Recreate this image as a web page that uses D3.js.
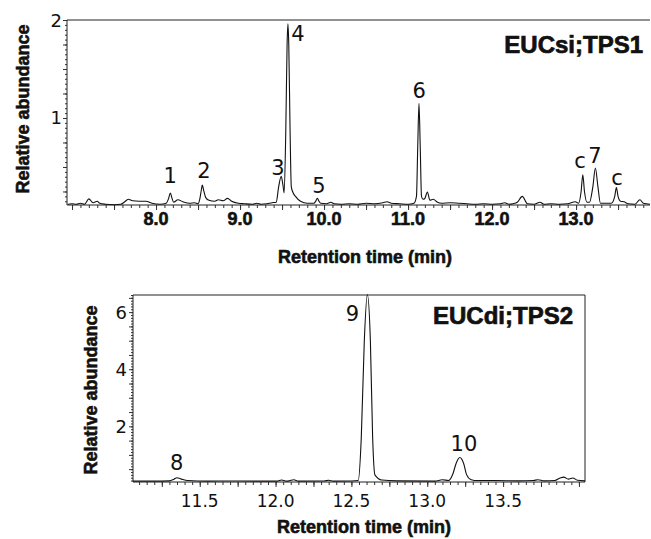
<!DOCTYPE html>
<html>
<head>
<meta charset="utf-8">
<script src="https://cdn.jsdelivr.net/npm/d3@7"></script>
<style>
  body { margin: 0; background: #fff; }
  svg { display: block; }
  .axis-title { font-family: "Liberation Sans", Arial, sans-serif; font-weight: bold; font-size: 18px; fill: #111; stroke: #111; stroke-width: 0.6; }
  .panel-title { font-family: "Liberation Sans", Arial, sans-serif; font-weight: bold; font-size: 24px; fill: #111; stroke: #111; stroke-width: 0.7; }
  .peak-label { font-family: "DejaVu Sans", sans-serif; font-size: 21px; fill: #111; }
  .trace { fill: none; stroke: #111; stroke-width: 1.1; }
</style>
</head>
<body>
<div id="chart"></div>
<script>
// EUCsi;TPS1 trace (retention time in min, relative abundance)
const tps1Time = [6.95, 7.00, 7.05, 7.10, 7.15, 7.20, 7.25, 7.30, 7.33, 7.40, 7.50, 7.58, 7.62, 7.67, 7.72, 7.80, 7.88, 7.95,
  8.05, 8.12, 8.15, 8.17, 8.19, 8.21, 8.26, 8.32, 8.40, 8.46, 8.50, 8.52, 8.54, 8.55, 8.57, 8.59, 8.63, 8.70, 8.74, 8.80, 8.85, 8.90, 8.98,
  9.05, 9.15, 9.20, 9.25, 9.32, 9.38, 9.43, 9.46, 9.49, 9.51, 9.525, 9.545, 9.56, 9.57, 9.58, 9.595, 9.61, 9.63, 9.66, 9.72, 9.80, 9.88, 9.90, 9.92, 9.94, 9.96,
  10.03, 10.08, 10.12, 10.20, 10.30, 10.40, 10.50, 10.60, 10.70, 10.75, 10.80, 10.90, 11.00, 11.07, 11.10, 11.115, 11.13, 11.145, 11.16, 11.18, 11.20, 11.23, 11.26, 11.30, 11.35, 11.40, 11.50, 11.60, 11.70, 11.80, 11.90,
  12.00, 12.10, 12.15, 12.20, 12.25, 12.30, 12.36, 12.42, 12.50, 12.57, 12.62, 12.70, 12.80, 12.90, 12.99, 13.03, 13.06, 13.08, 13.10, 13.13, 13.16, 13.20, 13.23, 13.26, 13.29, 13.35, 13.42, 13.46, 13.48, 13.50, 13.53, 13.57, 13.62, 13.70, 13.76, 13.80, 13.88];
const tps1Abund = [0.12, 0.125, 0.12, 0.13, 0.12, 0.175, 0.135, 0.15, 0.13, 0.12, 0.115, 0.12, 0.14, 0.17, 0.155, 0.15, 0.15, 0.13,
  0.12, 0.13, 0.18, 0.235, 0.18, 0.14, 0.165, 0.145, 0.13, 0.135, 0.125, 0.17, 0.27, 0.315, 0.25, 0.19, 0.16, 0.15, 0.165, 0.155, 0.18, 0.15, 0.13,
  0.125, 0.12, 0.13, 0.12, 0.125, 0.135, 0.14, 0.3, 0.405, 0.32, 0.235, 0.9, 1.75, 1.96, 1.75, 0.9, 0.3, 0.24, 0.2, 0.15, 0.13, 0.13, 0.15, 0.18, 0.15, 0.13,
  0.125, 0.14, 0.125, 0.12, 0.125, 0.12, 0.13, 0.125, 0.135, 0.145, 0.13, 0.125, 0.12, 0.13, 0.2, 0.7, 1.15, 0.7, 0.2, 0.17, 0.18, 0.245, 0.16, 0.17, 0.14, 0.13, 0.135, 0.13, 0.125, 0.12, 0.125,
  0.12, 0.125, 0.135, 0.12, 0.125, 0.14, 0.20, 0.125, 0.12, 0.14, 0.12, 0.125, 0.12, 0.125, 0.145, 0.13, 0.25, 0.42, 0.25, 0.14, 0.14, 0.3, 0.49, 0.3, 0.13, 0.13, 0.13, 0.2, 0.29, 0.2, 0.15, 0.145, 0.125, 0.12, 0.165, 0.13, 0.12];

// EUCdi;TPS2 trace
const tps2Time = [11.06, 11.20, 11.30, 11.33, 11.35, 11.38, 11.42, 11.55, 11.70, 11.90, 12.01, 12.04, 12.07, 12.09, 12.12, 12.15, 12.32, 12.35, 12.38, 12.50, 12.545,
  12.565, 12.585, 12.605, 12.625, 12.64, 12.655, 12.70, 12.80, 13.05, 13.10, 13.14, 13.17, 13.19, 13.215, 13.24, 13.26, 13.29, 13.33, 13.45, 13.60, 13.70, 13.73, 13.77,
  13.84, 13.88, 13.90, 13.93, 13.96, 13.99, 14.04];
const tps2Abund = [0.08, 0.08, 0.09, 0.15, 0.2, 0.15, 0.1, 0.08, 0.085, 0.08, 0.08, 0.12, 0.08, 0.09, 0.13, 0.08, 0.085, 0.11, 0.08, 0.085, 0.1,
  1.6, 5.0, 6.62, 5.0, 1.6, 0.3, 0.12, 0.09, 0.08, 0.13, 0.1, 0.35, 0.7, 0.91, 0.7, 0.3, 0.13, 0.1, 0.1, 0.09, 0.1, 0.13, 0.09,
  0.1, 0.2, 0.22, 0.15, 0.19, 0.11, 0.09];

// peak labels: text, time, abundance at label baseline
const tps1Labels = ["1", "2", "3", "4", "5", "6", "c", "7", "c"];
const tps1LabelTime = [8.167, 8.571, 9.452, 9.69, 9.94, 11.131, 13.048, 13.226, 13.488];
const tps1LabelAbund = [0.34, 0.391, 0.421, 1.789, 0.238, 1.207, 0.485, 0.544, 0.321];
const tps2Labels = ["8", "9", "10"];
const tps2LabelTime = [11.348, 12.507, 13.242];
const tps2LabelAbund = [0.481, 5.70, 1.146];

// axis ticks
const tps1XLabels = [8.0, 9.0, 10.0, 11.0, 12.0, 13.0];
const tps1YLabels = [1, 2];
const tps2XLabels = [11.5, 12.0, 12.5, 13.0, 13.5];
const tps2YLabels = [2, 4, 6];

const svg = d3.select('#chart').append('svg')
    .attr('width', 651)
    .attr('height', 539);

function range(a, b, step) {
    const out = [];
    for (let i = Math.ceil(a / step - 1e-9); i * step <= b + 1e-9; i++) out.push(+(i * step).toFixed(4));
    return out;
}

function drawPanel(opt) {
    const x = d3.scaleLinear().domain(opt.xDomain).range([opt.left, opt.right]);
    const y = d3.scaleLinear().domain(opt.yDomain).range([opt.bottom, opt.top]);
    const g = svg.append('g');

    // minor and major x ticks
    const xMinor = range(opt.xDomain[0], opt.xDomain[1], opt.xMinorStep);
    const xMajor = range(opt.xDomain[0], opt.xDomain[1], opt.xMajorStep);
    g.append('g').attr('transform', `translate(0,${opt.bottom})`)
        .call(d3.axisBottom(x).tickValues(xMinor).tickSize(3).tickFormat('').tickSizeOuter(0))
        .call(a => a.select('.domain').remove());
    g.append('g').attr('transform', `translate(0,${opt.bottom})`)
        .call(d3.axisBottom(x).tickValues(xMajor).tickSize(5).tickFormat('').tickSizeOuter(0))
        .call(a => a.select('.domain').remove());

    // y ticks
    const yMinor = range(opt.yDomain[0], opt.yDomain[1], opt.yMinorStep);
    const yMajor = range(opt.yDomain[0], opt.yDomain[1], opt.yMajorStep);
    g.append('g').attr('transform', `translate(${opt.left},0)`)
        .call(d3.axisLeft(y).tickValues(yMinor).tickSize(2).tickFormat(''))
        .call(a => a.select('.domain').remove());
    g.append('g').attr('transform', `translate(${opt.left},0)`)
        .call(d3.axisLeft(y).tickValues(yMajor).tickSize(4).tickFormat(''))
        .call(a => a.select('.domain').remove());
    g.selectAll('.tick line').attr('stroke', '#333');

    // frame
    const frame = g.append('g').attr('stroke', '#222').attr('stroke-width', 1).attr('fill', 'none');
    frame.append('line').attr('x1', opt.left).attr('x2', opt.right).attr('y1', opt.top).attr('y2', opt.top);
    frame.append('line').attr('x1', opt.left).attr('x2', opt.right).attr('y1', opt.bottom).attr('y2', opt.bottom);
    frame.append('line').attr('x1', opt.left).attr('x2', opt.left).attr('y1', opt.top).attr('y2', opt.bottom);
    if (opt.rightBorder) {
        frame.append('line').attr('x1', opt.right).attr('x2', opt.right).attr('y1', opt.top).attr('y2', opt.bottom);
    }

    // tick labels
    g.selectAll('.xlab').data(opt.xLabels).enter().append('text')
        .attr('x', d => x(d))
        .attr('y', opt.bottom + opt.xLabelDy)
        .attr('text-anchor', 'middle')
        .style('font-family', opt.xLabelBold ? '"Liberation Sans", Arial, sans-serif' : '"DejaVu Sans", sans-serif')
        .style('font-weight', opt.xLabelBold ? 'bold' : 'normal')
        .style('font-size', opt.xLabelSize + 'px')
        .style('fill', '#111')
        .style('stroke', opt.xLabelBold ? '#111' : 'none')
        .style('stroke-width', 0.6)
        .text(d => d.toFixed(1));
    g.selectAll('.ylab').data(opt.yLabels).enter().append('text')
        .attr('x', opt.left - opt.yLabelDx)
        .attr('y', d => y(d) + 6.5)
        .attr('text-anchor', 'end')
        .style('font-family', '"DejaVu Sans", sans-serif')
        .style('font-size', '18px')
        .style('fill', '#111')
        .text(d => d);

    // trace
    const pts = opt.time.map((t, i) => [t, opt.abund[i]]);
    g.append('path')
        .datum(pts)
        .attr('class', 'trace')
        .attr('d', d3.line().x(d => x(d[0])).y(d => y(d[1])).curve(d3.curveMonotoneX));

    // peak labels
    g.selectAll('.peak-label').data(opt.labels).enter().append('text')
        .attr('class', 'peak-label')
        .attr('x', (d, i) => x(opt.labelTime[i]))
        .attr('y', (d, i) => y(opt.labelAbund[i]))
        .attr('text-anchor', 'middle')
        .text(d => d);

    // titles
    g.append('text').attr('class', 'panel-title')
        .attr('x', opt.titleX).attr('y', opt.titleY)
        .attr('text-anchor', 'end')
        .text(opt.title);
    g.append('text').attr('class', 'axis-title')
        .attr('x', opt.xTitleX).attr('y', opt.xTitleY)
        .attr('text-anchor', 'middle')
        .text('Retention time (min)');
    g.append('text').attr('class', 'axis-title')
        .attr('transform', `translate(${opt.yTitleX},${opt.yTitleY}) rotate(-90)`)
        .attr('text-anchor', 'middle')
        .text('Relative abundance');
}

drawPanel({
    xDomain: [6.94, 13.88], yDomain: [0.112, 2.0],
    left: 67, right: 650, top: 20, bottom: 205,
    xMinorStep: 0.1, xMajorStep: 0.5, yMinorStep: 0.05, yMajorStep: 0.25,
    xLabels: tps1XLabels, yLabels: tps1YLabels,
    xLabelBold: true, xLabelSize: 18, xLabelDy: 19.5, yLabelDx: 5,
    time: tps1Time, abund: tps1Abund,
    labels: tps1Labels, labelTime: tps1LabelTime, labelAbund: tps1LabelAbund,
    title: 'EUCsi;TPS1', titleX: 643, titleY: 52.5,
    xTitleX: 365, xTitleY: 263, yTitleX: 29, yTitleY: 109,
    rightBorder: false
});

drawPanel({
    xDomain: [11.06, 14.04], yDomain: [0.05, 6.6],
    left: 133, right: 585, top: 295, bottom: 482,
    xMinorStep: 0.05, xMajorStep: 0.25, yMinorStep: 0.1, yMajorStep: 0.5,
    xLabels: tps2XLabels, yLabels: tps2YLabels,
    xLabelBold: false, xLabelSize: 17, xLabelDy: 25, yLabelDx: 6,
    time: tps2Time, abund: tps2Abund,
    labels: tps2Labels, labelTime: tps2LabelTime, labelAbund: tps2LabelAbund,
    title: 'EUCdi;TPS2', titleX: 573, titleY: 323.5,
    xTitleX: 364, xTitleY: 533, yTitleX: 97, yTitleY: 390,
    rightBorder: true
});
</script>
</body>
</html>
